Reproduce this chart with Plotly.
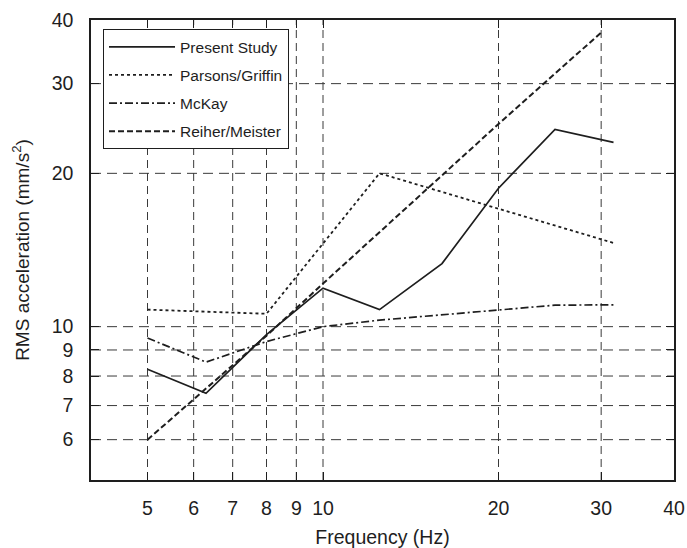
import plotly.graph_objects as go

# Frequencies (Hz)
freq_present = [5, 6.3, 8, 10, 12.5, 16, 20, 25, 31.5]
present_study = [8.25, 7.4, 9.65, 11.9, 10.8, 13.3, 18.7, 24.4, 23.0]

freq_parsons = [5, 8, 12.5, 31.5]
parsons_griffin = [10.8, 10.6, 20.0, 14.6]

freq_mckay = [5, 6.3, 8, 10, 12.5, 16, 20, 25, 31.5]
mckay = [9.5, 8.52, 9.35, 10.0, 10.3, 10.55, 10.77, 11.02, 11.04]

freq_reiher = [5, 8, 10, 20, 30]
reiher_meister = [6.0, 9.6, 12.15, 25.0, 37.8]

x_ticks = [5, 6, 7, 8, 9, 10, 20, 30, 40]
y_ticks = [6, 7, 8, 9, 10, 20, 30, 40]
x_grid = [5, 6, 7, 8, 9, 10, 20, 30]
y_grid = [6, 7, 8, 9, 10, 20, 30]

INK = "#1e1e1e"
GRID = "#3a3a3a"
FONT = "Liberation Sans, Arial, sans-serif"

fig = go.Figure()
series = [
    ("Present Study", freq_present, present_study, "solid", 1.7),
    ("Parsons/Griffin", freq_parsons, parsons_griffin, "dot", 1.8),
    ("McKay", freq_mckay, mckay, "8px,3px,2px,3px", 1.7),
    ("Reiher/Meister", freq_reiher, reiher_meister, "6px,3px", 2.0),
]
for i, (name, xs, ys, dash, w) in enumerate(series):
    fig.add_trace(go.Scatter(
        x=xs, y=ys, mode="lines", name=name, legendgroup=f"g{i}",
        line=dict(color=INK, width=w, dash=dash),
    ))

# dashed grid lines
for gx in x_grid:
    fig.add_shape(type="line", xref="x", yref="paper", x0=gx, x1=gx, y0=0, y1=1,
                  line=dict(color=GRID, width=1, dash="8px,5px"), layer="below")
for gy in y_grid:
    fig.add_shape(type="line", xref="paper", yref="y", x0=0, x1=1, y0=gy, y1=gy,
                  line=dict(color=GRID, width=1, dash="10px,6px"), layer="below")

fig.update_layout(
    width=687, height=548,
    margin=dict(l=91, r=13, t=20, b=68, autoexpand=False),
    paper_bgcolor="white", plot_bgcolor="white",
    font=dict(family=FONT, color=INK),
    showlegend=True,
    legend=dict(
        x=0.0206, y=0.98, xanchor="left", yanchor="top",
        bordercolor=INK, borderwidth=1, bgcolor="white",
        font=dict(size=15.5, family=FONT, color=INK),
        tracegroupgap=5, itemwidth=66,
    ),
)
fig.update_xaxes(
    type="log", range=[0.60206, 1.60206], automargin=False,
    tickvals=x_ticks, ticktext=[str(v) for v in x_ticks],
    ticks="inside", ticklen=8, tickcolor=INK, tickwidth=1,
    showline=True, linecolor=INK, linewidth=1.5, mirror="ticks",
    showgrid=False, zeroline=False,
    tickfont=dict(size=19.5, family=FONT, color=INK),
    ticklabelstandoff=10,
    title=dict(text="Frequency (Hz)", font=dict(size=19.5, family=FONT, color=INK), standoff=12),
)
fig.update_yaxes(
    type="log", range=[0.69897, 1.60206], automargin=False,
    tickvals=y_ticks, ticktext=[str(v) for v in y_ticks],
    ticks="inside", ticklen=8, tickcolor=INK, tickwidth=1,
    showline=True, linecolor=INK, linewidth=1.5, mirror="ticks",
    showgrid=False, zeroline=False,
    tickfont=dict(size=19.5, family=FONT, color=INK),
    ticklabelstandoff=12,
    title=dict(text="RMS acceleration (mm/s<sup>2</sup>)", font=dict(size=19, family=FONT, color=INK), standoff=17),
)

fig.write_html("out.html")
